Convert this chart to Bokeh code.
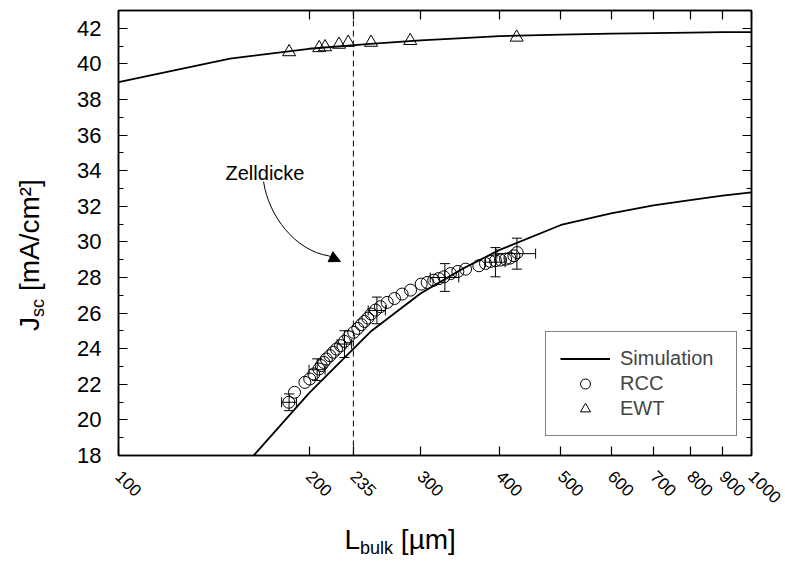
import math
from bokeh.plotting import figure
from bokeh.embed import file_html
from bokeh.resources import INLINE
from bokeh.models import (Label, Span, Whisker, TeeHead, ColumnDataSource, FixedTicker,
                          SingleIntervalTicker, LinearAxis, Legend, LegendItem, Arrow,
                          NormalHead, BasicTickFormatter, CustomJSTickFormatter)

# ---------------- data ----------------
sim_x = [100, 150, 200, 250, 300, 350, 400, 500, 600, 700, 800, 900, 1000]
sim_ewt = [38.98, 40.30, 40.85, 41.12, 41.32, 41.45, 41.56, 41.65, 41.70, 41.73, 41.76, 41.78, 41.79]
sim_rcc_x = [150, 200, 250, 300, 350, 400, 500, 600, 700, 800, 900, 1000]
sim_rcc = [16.5, 21.5, 24.95, 27.1, 28.5, 29.55, 30.95, 31.6, 32.05, 32.35, 32.6, 32.78]

rcc_x = [185.8, 189.7, 197, 200.5, 203.5, 207.3, 209, 211, 213, 215.8, 218.4, 221, 224.3,
         227.5, 231, 235.3, 238.8, 241.8, 244.7, 247.7, 250.7, 254.7, 259.3, 265.7, 272.9,
         280.6, 289.3, 300.7, 307.4, 314.8, 320.7, 326.6, 334.6, 343.6, 353.4, 370.9, 380,
         387, 394, 401.4, 408.8, 415.3, 421.3, 426.4]
rcc_y = [20.99, 21.55, 22.11, 22.3, 22.58, 22.86, 23.05, 23.23, 23.42, 23.61, 23.8, 23.98, 24.17,
         24.41, 24.67, 24.92, 25.14, 25.35, 25.53, 25.72, 25.95, 26.17, 26.36, 26.6, 26.82,
         27.07, 27.29, 27.63, 27.72, 27.85, 27.94, 28.04, 28.22, 28.34, 28.47, 28.66, 28.79,
         28.9, 28.94, 28.98, 29.03, 29.09, 29.22, 29.4]

err_x = [186, 206, 227.5, 256, 327.8, 394, 426]
err_y = [20.99, 22.82, 24.26, 26.15, 28.0, 28.86, 29.34]
err_dy = [0.47, 0.61, 0.75, 0.75, 0.78, 0.82, 0.87]
err_dx = [5, 6, 6, 8, 17, 14, 30]

ewt_x = [186, 207.5, 212, 223, 230.6, 250.6, 289, 425.6]
ewt_y = [40.67, 40.9, 40.95, 41.09, 41.2, 41.2, 41.3, 41.49]

x_ticks = [100, 200, 235, 300, 400, 500, 600, 700, 800, 900, 1000]
cell_thickness = 235

FONT = "Liberation Sans"

p = figure(width=785, height=563, x_axis_type="log", x_range=(100, 1000), y_range=(18, 43),
           output_backend="svg", toolbar_location=None,
           min_border_left=118, min_border_right=34, min_border_top=10, min_border_bottom=108)
p.grid.visible = False
p.outline_line_color = "black"
p.outline_line_width = 1.5
p.background_fill_color = "white"
p.border_fill_color = "white"

xt = FixedTicker(ticks=x_ticks, minor_ticks=[])
yt = SingleIntervalTicker(interval=2, num_minor_ticks=2)

def style_axis(ax):
    ax.axis_line_color = "black"
    ax.axis_line_width = 1.5
    ax.major_tick_line_color = "black"
    ax.minor_tick_line_color = "black"
    ax.major_tick_line_width = 1.2
    ax.minor_tick_line_width = 1.2
    ax.major_tick_in = 9
    ax.major_tick_out = 0
    ax.minor_tick_in = 5
    ax.minor_tick_out = 0
    ax.major_label_text_font = FONT
    ax.major_label_text_color = "black"
    ax.major_label_text_font_size = "21px"

xa = p.xaxis[0]
xa.ticker = xt
xa.formatter = BasicTickFormatter(use_scientific=False)
style_axis(xa)
xa.major_label_text_font_size = "17px"
xa.major_label_orientation = -math.pi / 4
xa.major_label_standoff = 18

ya = p.yaxis[0]
ya.ticker = yt
style_axis(ya)
ya.major_label_text_font_size = "22px"
ya.major_label_standoff = 17

blank = CustomJSTickFormatter(code="return ''")
top = LinearAxis(ticker=xt, formatter=blank)
style_axis(top)
top.major_label_standoff = 0
p.add_layout(top, "above")
right = LinearAxis(ticker=yt, formatter=blank)
style_axis(right)
right.major_label_standoff = 0
p.add_layout(right, "right")

# ---------------- glyphs ----------------
p.add_layout(Span(location=cell_thickness, dimension="height", line_color="black",
                  line_width=1, line_dash="6 4"))

sim1 = p.line(sim_x, sim_ewt, line_color="black", line_width=1.8)
p.line(sim_rcc_x, sim_rcc, line_color="black", line_width=1.8)

esrc = ColumnDataSource(dict(
    x=err_x, y=err_y,
    ylo=[y - d for y, d in zip(err_y, err_dy)], yhi=[y + d for y, d in zip(err_y, err_dy)],
    xlo=[x - d for x, d in zip(err_x, err_dx)], xhi=[x + d for x, d in zip(err_x, err_dx)]))
p.add_layout(Whisker(source=esrc, base="x", lower="ylo", upper="yhi", dimension="height",
                     line_color="black", line_width=1,
                     lower_head=TeeHead(size=10, line_color="black", line_width=1),
                     upper_head=TeeHead(size=10, line_color="black", line_width=1)))
p.add_layout(Whisker(source=esrc, base="y", lower="xlo", upper="xhi", dimension="width",
                     line_color="black", line_width=1,
                     lower_head=TeeHead(size=10, line_color="black", line_width=1),
                     upper_head=TeeHead(size=10, line_color="black", line_width=1)))

rcc = p.scatter(rcc_x, rcc_y, marker="circle", size=12, fill_color=None,
                line_color="black", line_width=1)
ewt = p.scatter(ewt_x, ewt_y, marker="triangle", size=13, fill_color=None,
                line_color="black", line_width=1)

# ---------------- annotation "Zelldicke" ----------------
p.add_layout(Label(x=147.6, y=33.87, text="Zelldicke", text_font=FONT, text_font_size="20px",
                   text_color="black", text_baseline="alphabetic", text_align="left"))
p.bezier(x0=[169.5], y0=[33.38], x1=[214.7], y1=[29.22],
         cx0=[172.6], cy0=[31.46], cx1=[190.4], cy1=[29.5],
         line_color="black", line_width=1)
p.add_layout(Arrow(x_start=214.7, y_start=29.22, x_end=224.2, y_end=28.9,
                   line_color="black", line_width=1,
                   end=NormalHead(size=11, fill_color="black", line_color="black")))

# ---------------- axis titles ----------------
# (placed in side panels, where annotations are not clipped to the frame;
#  positions are still given relative to the frame through data anchors + pixel offsets)
TS, SS = 28, 18

def title_piece(side, x, y, xo, yo, txt, size, angle=0.0):
    p.add_layout(Label(x=x, y=y, x_offset=xo, y_offset=yo, text=txt, angle=angle,
                       text_font=FONT, text_font_size=f"{size}px", text_color="black",
                       text_baseline="alphabetic", text_align="left"), side)

# x title: L_bulk [µm]
xt_x, xt_y, xt_dy, xt_x0 = 100, 18, -84, 226
title_piece("left", xt_x, xt_y, xt_x0, xt_dy, "L", TS)
title_piece("right", xt_x, xt_y, xt_x0 + 0.556 * TS, xt_dy - 8, "bulk", SS)
title_piece("below", xt_x, xt_y, xt_x0 + 0.556 * TS + 1.834 * SS + 0.278 * TS, xt_dy, "[µm]", TS)

# y title: J_sc [mA/cm²] (rotated)
yx, yy, ang = 72.4, 25.0, math.pi / 2
title_piece("below", yx, yy, 0, 0, "J", TS, ang)
title_piece("left", yx, yy, 8, 0.5 * TS, "sc", SS, ang)
title_piece("left", yx, yy, 0, 0.5 * TS + 1.0 * SS + 0.278 * TS, "[mA/cm²]", TS, ang)

# ---------------- legend ----------------
legend = Legend(items=[LegendItem(label="Simulation", renderers=[sim1]),
                       LegendItem(label="RCC", renderers=[rcc]),
                       LegendItem(label="EWT", renderers=[ewt])],
                location=(427, 19), label_text_font=FONT, label_text_font_size="20px",
                glyph_width=50, glyph_height=25, spacing=0, padding=14, label_width=102,
                label_standoff=10, border_line_color="black", border_line_width=1,
                background_fill_color="white", background_fill_alpha=1, margin=0)
p.add_layout(legend, "center")

open("out.html", "w").write(file_html(p, INLINE))
